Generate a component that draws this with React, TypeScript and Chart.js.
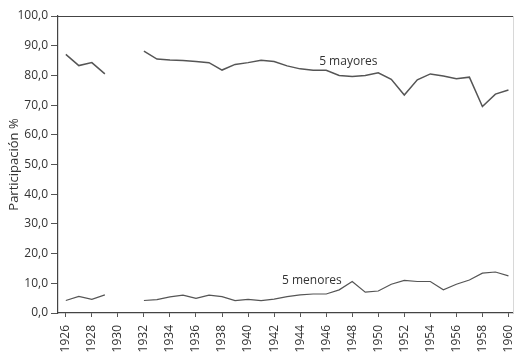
import React, { useEffect, useRef } from "react";
import { Chart, registerables } from "chart.js";

Chart.register(...registerables);

const years: number[] = [
  1926, 1927, 1928, 1929, 1930, 1931, 1932, 1933, 1934, 1935, 1936, 1937,
  1938, 1939, 1940, 1941, 1942, 1943, 1944, 1945, 1946, 1947, 1948, 1949,
  1950, 1951, 1952, 1953, 1954, 1955, 1956, 1957, 1958, 1959, 1960,
];

const mayores: (number | null)[] = [
  87.1, 83.3, 84.3, 80.5, null, null, 88.2, 85.5, 85.2, 85.0, 84.7, 84.3,
  81.8, 83.7, 84.3, 85.1, 84.7, 83.2, 82.2, 81.7, 81.7, 80.0, 79.6, 80.0,
  80.9, 78.7, 73.4, 78.5, 80.5, 79.8, 78.9, 79.4, 69.5, 73.7, 75.1,
];

const menores: (number | null)[] = [
  4.2, 5.6, 4.6, 6.1, null, null, 4.2, 4.5, 5.4, 6.0, 4.9, 6.0,
  5.5, 4.2, 4.6, 4.2, 4.7, 5.5, 6.1, 6.4, 6.4, 7.8, 10.6, 7.0,
  7.4, 9.7, 11.0, 10.6, 10.6, 7.8, 9.7, 11.1, 13.4, 13.8, 12.5,
];

const xTickYears: number[] = [
  1926, 1928, 1930, 1932, 1934, 1936, 1938, 1940, 1942, 1944, 1946, 1948,
  1950, 1952, 1954, 1956, 1958, 1960,
];

const seriesLabels: string[] = ["5 mayores", "5 menores"];
// label anchors: [year, value] in data units
const labelAnchors: [number, number][] = [
  [1947.7, 84.8],
  [1944.9, 10.8],
];

const yTitle = "Participación %";
const FONT = "'Open Sans', 'DejaVu Sans', sans-serif";
const TEXT = "#333";
const LINE = "#555";

export default function App() {
  const ref = useRef<HTMLCanvasElement | null>(null);

  useEffect(() => {
    if (!ref.current) return;
    const frame = {
      id: "frame",
      afterDraw(chart: any) {
        const { ctx, chartArea } = chart;
        ctx.save();
        ctx.strokeStyle = "#444";
        ctx.lineWidth = 1.2;
        ctx.beginPath();
        ctx.moveTo(chartArea.left, chartArea.top + 0.5);
        ctx.lineTo(chartArea.right + 1, chartArea.top + 0.5);
        ctx.stroke();
        ctx.strokeStyle = "#d8d8d8";
        ctx.lineWidth = 1;
        ctx.beginPath();
        ctx.moveTo(chartArea.right + 0.5, chartArea.top);
        ctx.lineTo(chartArea.right + 0.5, chartArea.bottom);
        ctx.stroke();
        // series labels
        const xs = chart.scales.x;
        const ys = chart.scales.y;
        ctx.fillStyle = TEXT;
        ctx.font = `12px ${FONT}`;
        ctx.textAlign = "center";
        ctx.textBaseline = "middle";
        seriesLabels.forEach((t, i) => {
          const [yr, v] = labelAnchors[i];
          ctx.fillText(t, xs.getPixelForValue(yr), ys.getPixelForValue(v));
        });
        ctx.restore();
      },
    };

    const chart = new Chart(ref.current, {
      type: "line",
      data: {
        datasets: [
          {
            label: seriesLabels[0],
            data: years.map((y, i) => ({ x: y, y: mayores[i] })) as any,
            borderColor: LINE,
            borderWidth: 1.5,
            pointRadius: 0,
            spanGaps: false,
            tension: 0,
          },
          {
            label: seriesLabels[1],
            data: years.map((y, i) => ({ x: y, y: menores[i] })) as any,
            borderColor: LINE,
            borderWidth: 1.2,
            pointRadius: 0,
            spanGaps: false,
            tension: 0,
          },
        ],
      },
      options: {
        animation: false,
        responsive: false,
        maintainAspectRatio: false,
        layout: { padding: { top: 16, right: 2, left: 0, bottom: 0 } },
        plugins: {
          legend: { display: false },
          tooltip: { enabled: false },
        },
        scales: {
          x: {
            type: "linear",
            min: 1925.4,
            max: 1960.35,
            afterBuildTicks: (scale: any) => {
              scale.ticks = xTickYears.map((v) => ({ value: v }));
            },
            afterFit: (scale: any) => {
              scale.height = 40;
              scale.paddingLeft = 0;
              scale.paddingRight = 0;
            },
            grid: {
              display: true,
              drawOnChartArea: false,
              drawTicks: true,
              tickLength: 4,
              color: "#555",
            },
            border: { display: true, color: "#444", width: 1.2 },
            ticks: {
              autoSkip: false,
              minRotation: 90,
              maxRotation: 90,
              padding: 8,
              color: TEXT,
              font: { family: FONT, size: 12 },
              callback: (v: any) => String(v),
            },
          },
          y: {
            type: "linear",
            min: 0,
            max: 100,
            afterFit: (scale: any) => {
              scale.width = 58;
              scale.paddingTop = 0;
              scale.paddingBottom = 0;
            },
            grid: {
              display: true,
              drawOnChartArea: false,
              drawTicks: true,
              tickLength: 7,
              color: "#555",
            },
            border: { display: true, color: "#444", width: 1.2 },
            ticks: {
              stepSize: 10,
              padding: 3,
              color: TEXT,
              font: { family: FONT, size: 12 },
              callback: (v: any) => Number(v).toFixed(1).replace(".", ","),
            },
            title: {
              display: true,
              text: yTitle,
              color: TEXT,
              font: { family: FONT, size: 13 },
              padding: { top: 6, bottom: 0 },
            },
          },
        },
      },
      plugins: [frame],
    });
    return () => chart.destroy();
  }, []);

  return (
    <div style={{ position: "fixed", left: 0, top: 0, width: 515, height: 353, background: "#fff" }}>
      <canvas ref={ref} width={515} height={353} style={{ width: 515, height: 353 }} />
    </div>
  );
}
